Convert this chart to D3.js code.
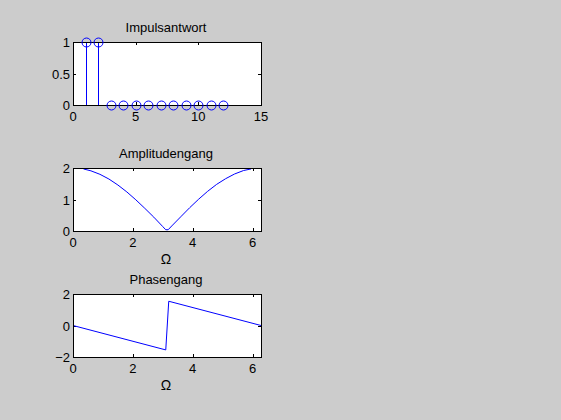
<!DOCTYPE html>
<html>
<head>
<meta charset="utf-8">
<script src="https://cdn.jsdelivr.net/npm/d3@7"></script>
<style>
  html, body { margin: 0; padding: 0; background: #cccccc; }
  svg { display: block; }
  text { font-family: "Liberation Sans", Arial, sans-serif; font-size: 13px; fill: #000; }
</style>
</head>
<body>
<svg id="chart" width="561" height="420"></svg>
<script>
// ---- data ----
const impulseN = [1, 2, 3, 4, 5, 6, 7, 8, 9, 10, 11, 12];
const impulseH = [1, 1, 0, 0, 0, 0, 0, 0, 0, 0, 0, 0];

const ampOmega = [0.35, 0.6, 0.9, 1.2, 1.5, 1.8, 2.1, 2.4, 2.7, 3.0, 3.1, 3.18, 3.3, 3.6, 3.9, 4.2, 4.5, 4.8, 5.1, 5.4, 5.7, 5.95];
const ampValue = [1.97, 1.91, 1.80, 1.65, 1.46, 1.24, 0.99, 0.72, 0.44, 0.14, 0.04, 0.04, 0.16, 0.45, 0.74, 1.01, 1.26, 1.48, 1.66, 1.81, 1.92, 1.97];

const phaseOmega = [0, 3.1, 3.2, 6.2832];
const phaseValue = [0, -1.55, 1.54, 0];

const titles = ["Impulsantwort", "Amplitudengang", "Phasengang"];
const xTicks1 = [0, 5, 10, 15];
const yTicks1 = [0, 0.5, 1];
const xTicksW = [0, 2, 4, 6];
const yTicks2 = [0, 1, 2];
const yTicks3 = [-2, 0, 2];
const xLabel = "\u03A9";

// ---- layout ----
const svg = d3.select("#chart");
const L = 73, R = 261;
const panels = [
  { top: 42, bottom: 105 },
  { top: 168, bottom: 231 },
  { top: 294, bottom: 357 }
];

function drawAxes(p, x, y, xt, yt, title, xlab) {
  const g = svg.append("g");
  g.append("rect").attr("x", L).attr("y", p.top).attr("width", R - L).attr("height", p.bottom - p.top)
    .attr("fill", "#fff");
  const tl = 3;
  xt.forEach(v => {
    const px = Math.round(x(v)) + 0.5;
    g.append("line").attr("x1", px).attr("x2", px).attr("y1", p.bottom).attr("y2", p.bottom - tl).attr("stroke", "#000");
    g.append("line").attr("x1", px).attr("x2", px).attr("y1", p.top).attr("y2", p.top + tl).attr("stroke", "#000");
    g.append("text").attr("x", x(v)).attr("y", p.bottom + 16).attr("text-anchor", "middle").text(d3.format("")(v));
  });
  yt.forEach(v => {
    const py = Math.round(y(v)) + 0.5;
    g.append("line").attr("x1", L).attr("x2", L + tl).attr("y1", py).attr("y2", py).attr("stroke", "#000");
    g.append("line").attr("x1", R).attr("x2", R - tl).attr("y1", py).attr("y2", py).attr("stroke", "#000");
    g.append("text").attr("x", L - 3).attr("y", y(v) + 5).attr("text-anchor", "end").text(d3.format("")(v));
  });
  g.append("text").attr("x", (L + R) / 2 - 1).attr("y", p.top - 10).attr("text-anchor", "middle").text(title);
  if (xlab) {
    g.append("text").attr("x", (L + R) / 2 - 1).attr("y", p.bottom + 33).attr("text-anchor", "middle")
      .style("font-size", "14px").text(xlab);
  }
  return g;
}

function frame(p) {
  svg.append("rect").attr("x", L + 0.5).attr("y", p.top + 0.5).attr("width", R - L).attr("height", p.bottom - p.top)
    .attr("fill", "none").attr("stroke", "#000");
}

// Panel 1: stem plot
{
  const p = panels[0];
  const x = d3.scaleLinear().domain([0, 15]).range([L, R]);
  const y = d3.scaleLinear().domain([0, 1]).range([p.bottom, p.top]);
  drawAxes(p, x, y, xTicks1, yTicks1, titles[0], null);
  const g = svg.append("g");
  impulseN.forEach((n, i) => {
    if (impulseH[i] !== 0) {
      g.append("line").attr("x1", Math.round(x(n)) + 0.5).attr("x2", Math.round(x(n)) + 0.5)
        .attr("y1", y(0)).attr("y2", y(impulseH[i])).attr("stroke", "#0000ff");
    }
  });
  frame(p);
  impulseN.forEach((n, i) => {
    svg.append("circle").attr("cx", Math.round(x(n)) + 0.5).attr("cy", y(impulseH[i]) + 0.5).attr("r", 4.5)
      .attr("fill", "none").attr("stroke", "#0000ff");
  });
}

// Panel 2: amplitude
{
  const p = panels[1];
  const x = d3.scaleLinear().domain([0, 2 * Math.PI]).range([L, R]);
  const y = d3.scaleLinear().domain([0, 2]).range([p.bottom, p.top]);
  drawAxes(p, x, y, xTicksW, yTicks2, titles[1], xLabel);
  const line = d3.line().x((d, i) => x(ampOmega[i])).y((d, i) => y(ampValue[i]));
  svg.append("path").datum(ampValue).attr("d", line).attr("fill", "none").attr("stroke", "#0000ff").attr("stroke-width", 1);
  frame(p);
}

// Panel 3: phase
{
  const p = panels[2];
  const x = d3.scaleLinear().domain([0, 2 * Math.PI]).range([L, R]);
  const y = d3.scaleLinear().domain([-2, 2]).range([p.bottom, p.top]);
  drawAxes(p, x, y, xTicksW, yTicks3, titles[2], xLabel);
  const line = d3.line().x((d, i) => x(phaseOmega[i])).y((d, i) => y(phaseValue[i]));
  svg.append("path").datum(phaseValue).attr("d", line).attr("fill", "none").attr("stroke", "#0000ff").attr("stroke-width", 1);
  frame(p);
}
</script>
</body>
</html>
